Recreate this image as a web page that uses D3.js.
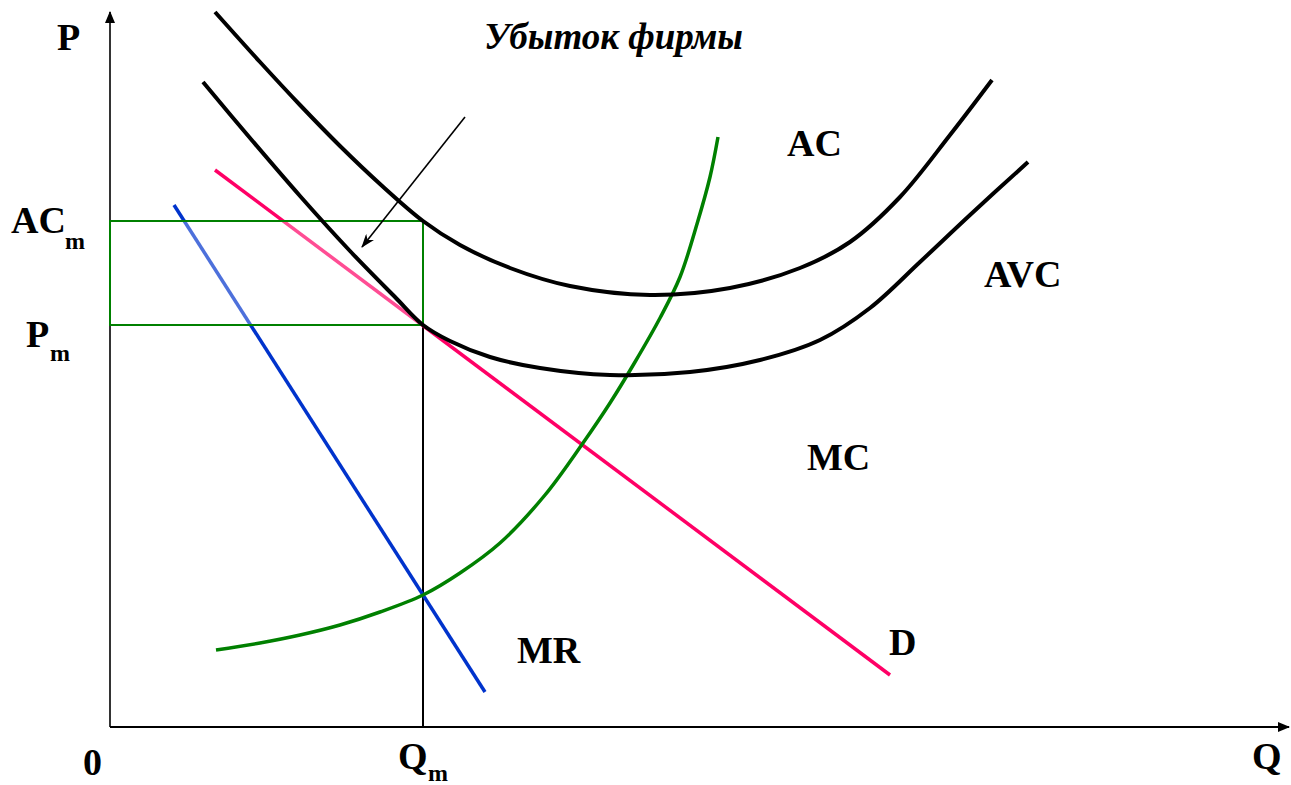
<!DOCTYPE html>
<html>
<head>
<meta charset="utf-8">
<script src="https://cdn.jsdelivr.net/npm/d3@7"></script>
<style>
  body { margin: 0; background: #fff; }
  text { font-family: "Liberation Serif", "Times New Roman", serif; font-weight: bold; fill: #000; }
</style>
</head>
<body>
<div class="chart"></div>
<script>
// values (Q and P in chart units)
var qMax = 117.7;
var pMax = 71.5;
var qM = 31.3;
var pM = 40.2;
var acM = 50.6;

var demandQ = [10.5, 78.0];
var demandP = [55.7, 5.2];

var mrQ = [6.4, 37.5];
var mrP = [52.2, 3.5];

var mcQ = [10.6, 15.0, 19.0, 23.0, 27.0, 31.3, 35.0, 39.0, 43.5, 47.3, 50.0, 52.5, 55.0, 57.0, 58.7, 60.0, 60.8];
var mcP = [7.7, 8.4, 9.2, 10.2, 11.5, 13.2, 15.4, 18.4, 23.2, 28.4, 32.4, 36.5, 40.9, 45.0, 50.3, 55.0, 59.0];

var avcQ = [9.3, 14.0, 19.0, 24.0, 28.5, 31.3, 34.0, 38.0, 43.0, 50.0, 58.0, 65.0, 71.0, 76.0, 81.0, 86.0, 91.8];
var avcP = [64.5, 58.9, 53.1, 47.6, 43.0, 40.2, 38.6, 37.0, 35.9, 35.2, 35.5, 36.7, 38.7, 41.9, 46.5, 51.2, 56.5];

var acQ = [10.5, 15.0, 19.0, 23.0, 27.0, 31.3, 35.0, 40.0, 46.0, 54.0, 62.0, 69.0, 74.0, 79.0, 84.0, 88.2];
var acP = [71.5, 66.5, 62.2, 58.1, 54.3, 50.6, 48.2, 45.9, 44.1, 43.2, 43.9, 45.9, 48.5, 53.0, 59.2, 64.7];

var arrowQ = [35.5, 25.2];
var arrowP = [61.0, 48.0];

var svgWidth = 1291;
var svgHeight = 785;

var svg = d3.select(".chart")
    .append("svg")
    .attr("width", svgWidth)
    .attr("height", svgHeight);

var x = d3.scaleLinear().domain([0, qMax]).range([110, 1287]);
var y = d3.scaleLinear().domain([0, pMax]).range([727, 12]);

function zip(qs, ps) {
    return qs.map(function(q, i) { return [q, ps[i]]; });
}

var line = d3.line()
    .x(d => x(d[0]))
    .y(d => y(d[1]));

var curve = d3.line()
    .x(d => x(d[0]))
    .y(d => y(d[1]))
    .curve(d3.curveCatmullRom.alpha(0.5));

var defs = svg.append("defs");
defs.append("marker")
    .attr("id", "axisHead")
    .attr("viewBox", "0 0 12 10")
    .attr("refX", 11)
    .attr("refY", 5)
    .attr("markerWidth", 12)
    .attr("markerHeight", 10)
    .attr("markerUnits", "userSpaceOnUse")
    .attr("orient", "auto")
    .append("path")
    .attr("d", "M0,0 L12,5 L0,10 Z")
    .attr("fill", "#000");

defs.append("marker")
    .attr("id", "noteHead")
    .attr("viewBox", "0 0 14 10")
    .attr("refX", 13)
    .attr("refY", 5)
    .attr("markerWidth", 14)
    .attr("markerHeight", 10)
    .attr("markerUnits", "userSpaceOnUse")
    .attr("orient", "auto")
    .append("path")
    .attr("d", "M0,0 L14,5 L0,10 L4,5 Z")
    .attr("fill", "#000");

// axes
svg.append("line")
    .attr("x1", x(0)).attr("y1", y(0))
    .attr("x2", x(0)).attr("y2", y(pMax))
    .attr("stroke", "#000").attr("stroke-width", 1.6)
    .attr("marker-end", "url(#axisHead)");

svg.append("line")
    .attr("x1", x(0)).attr("y1", y(0))
    .attr("x2", x(qMax) + 2).attr("y2", y(0))
    .attr("stroke", "#000").attr("stroke-width", 1.8)
    .attr("marker-end", "url(#axisHead)");

// Qm drop line
svg.append("line")
    .attr("x1", x(qM)).attr("y1", y(0))
    .attr("x2", x(qM)).attr("y2", y(pM))
    .attr("stroke", "#000").attr("stroke-width", 2);

// demand and marginal revenue
svg.append("path")
    .datum(zip(demandQ, demandP))
    .attr("d", line)
    .attr("fill", "none")
    .attr("stroke", "#ff0066")
    .attr("stroke-width", 3.5);

svg.append("path")
    .datum(zip(mrQ, mrP))
    .attr("d", line)
    .attr("fill", "none")
    .attr("stroke", "#0033cc")
    .attr("stroke-width", 3.5);

// loss rectangle (washes the lines under it)
svg.append("rect")
    .attr("x", x(0))
    .attr("y", y(acM))
    .attr("width", x(qM) - x(0))
    .attr("height", y(pM) - y(acM))
    .attr("fill", "#fff")
    .attr("fill-opacity", 0.3)
    .attr("stroke", "#008000")
    .attr("stroke-width", 2);

// cost curves
svg.append("path")
    .datum(zip(mcQ, mcP))
    .attr("d", curve)
    .attr("fill", "none")
    .attr("stroke", "#008000")
    .attr("stroke-width", 3.5);

svg.append("path")
    .datum(zip(avcQ, avcP))
    .attr("d", curve)
    .attr("fill", "none")
    .attr("stroke", "#000")
    .attr("stroke-width", 4);

svg.append("path")
    .datum(zip(acQ, acP))
    .attr("d", curve)
    .attr("fill", "none")
    .attr("stroke", "#000")
    .attr("stroke-width", 4);

// pointer to the loss area
svg.append("line")
    .attr("x1", x(arrowQ[0])).attr("y1", y(arrowP[0]))
    .attr("x2", x(arrowQ[1])).attr("y2", y(arrowP[1]))
    .attr("stroke", "#000").attr("stroke-width", 1.6)
    .attr("marker-end", "url(#noteHead)");

// labels
function label(txt, lx, ly, size) {
    return svg.append("text")
        .attr("x", lx)
        .attr("y", ly)
        .attr("font-size", size)
        .text(txt);
}

label("P", 57, 50, 38);
label("AC", 11, 233, 38);
label("m", 65, 249, 24);
label("P", 26, 347, 38);
label("m", 50, 361, 24);
label("0", 83, 775, 38);
label("Q", 398, 769, 38);
label("m", 428, 781, 24);
label("Q", 1252, 769, 38);
label("AC", 787, 156, 38);
label("AVC", 984, 287, 38);
label("MC", 807, 470, 38);
label("MR", 517, 663, 38);
label("D", 889, 655, 38);
label("Убыток фирмы", 484, 49, 37).attr("font-style", "italic");
</script>
</body>
</html>
